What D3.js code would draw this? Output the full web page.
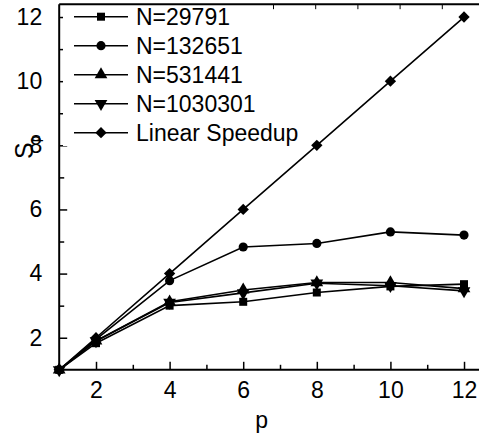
<!DOCTYPE html>
<html>
<head>
<meta charset="utf-8">
<script src="https://cdn.jsdelivr.net/npm/d3@7"></script>
<style>
  html, body { margin: 0; padding: 0; background: #fff; }
  svg { display: block; font-family: "Liberation Sans", Arial, sans-serif; }
</style>
</head>
<body>
<svg id="chart" width="479" height="441"></svg>
<script>
// ---- data ----
const pValues = [1, 2, 4, 6, 8, 10, 12];
const seriesNames = ["N=29791", "N=132651", "N=531441", "N=1030301", "Linear Speedup"];
const s29791   = [1, 1.83, 3.00, 3.12, 3.41, 3.60, 3.67];
const s132651  = [1, 1.95, 3.78, 4.83, 4.94, 5.30, 5.20];
const s531441  = [1, 1.90, 3.12, 3.49, 3.72, 3.72, 3.53];
const s1030301 = [1, 1.90, 3.10, 3.40, 3.70, 3.62, 3.46];
const sLinear  = [1, 2, 4, 6, 8, 10, 12];
const xTickValues = [2, 4, 6, 8, 10, 12];
const yTickValues = [2, 4, 6, 8, 10, 12];
const xMinorValues = [3, 5, 7, 9, 11];
const yMinorValues = [3, 5, 7, 9, 11];
const topTickValues = [5, 6, 7, 8, 9, 10];

const seriesValues = [s29791, s132651, s531441, s1030301, sLinear];
const markerTypes = ["square", "circle", "up", "down", "diamond"];
const markerSizes = [64, 66, 70, 70, 64];

const svg = d3.select("#chart");
const x = d3.scaleLinear().domain([1, 12.6]).range([59.2, 486.1]);
const y = d3.scaleLinear().domain([1, 12.4]).range([369.8, 4.2]);
const xTop = d3.scaleLinear().domain([0, 10]).range([62, 484]);

// frame lines
const frame = svg.append("g").attr("stroke", "#000").attr("stroke-width", 2).attr("fill", "none");
frame.append("line").attr("x1", x(1)).attr("x2", 479).attr("y1", y(1)).attr("y2", y(1));
frame.append("line").attr("x1", x(1)).attr("x2", x(1)).attr("y1", y(1)).attr("y2", y(12.4));
frame.append("line").attr("x1", x(1)).attr("x2", 479).attr("y1", y(12.4)).attr("y2", y(12.4));

// bottom axis (ticks inward)
const xAxis = d3.axisBottom(x).tickValues(xTickValues).tickSize(-8).tickPadding(12).tickFormat(d3.format("d"));
const gx = svg.append("g").attr("transform", `translate(0,${y(1)})`).call(xAxis);
gx.select(".domain").remove();
gx.selectAll(".tick line").attr("stroke", "#000").attr("stroke-width", 1.5);
gx.selectAll(".tick text").attr("font-size", 23).attr("fill", "#000").attr("font-family", "Liberation Sans, Arial, sans-serif");
const gxm = svg.append("g").attr("transform", `translate(0,${y(1)})`)
  .call(d3.axisBottom(x).tickValues(xMinorValues).tickSize(-5).tickFormat(""));
gxm.select(".domain").remove();
gxm.selectAll(".tick line").attr("stroke", "#000").attr("stroke-width", 1.5);

// left axis (ticks inward)
const yAxis = d3.axisLeft(y).tickValues(yTickValues).tickSize(-8).tickPadding(17).tickFormat(d3.format("d"));
const gy = svg.append("g").attr("transform", `translate(${x(1)},0)`).call(yAxis);
gy.select(".domain").remove();
gy.selectAll(".tick line").attr("stroke", "#000").attr("stroke-width", 1.5);
gy.selectAll(".tick text").attr("font-size", 23).attr("fill", "#000").attr("font-family", "Liberation Sans, Arial, sans-serif");
const gym = svg.append("g").attr("transform", `translate(${x(1)},0)`)
  .call(d3.axisLeft(y).tickValues(yMinorValues).tickSize(-5).tickFormat(""));
gym.select(".domain").remove();
gym.selectAll(".tick line").attr("stroke", "#000").attr("stroke-width", 1.5);

// top axis ticks
const gt = svg.append("g").attr("transform", `translate(0,${y(12.4)})`)
  .call(d3.axisTop(xTop).tickValues(topTickValues).tickSize(-5).tickFormat(""));
gt.select(".domain").remove();
gt.selectAll(".tick line").attr("stroke", "#000").attr("stroke-width", 1);

// markers
function markerPath(type, size) {
  const map = { square: d3.symbolSquare, circle: d3.symbolCircle, up: d3.symbolTriangle,
                down: d3.symbolTriangle, diamond: d3.symbolSquare };
  return d3.symbol().type(map[type]).size(size)();
}
function markerRot(type) {
  if (type === "down") return " rotate(180)";
  if (type === "diamond") return " rotate(45)";
  return "";
}

// series lines
const line = d3.line().x((d, i) => x(pValues[i])).y(d => y(d));
seriesValues.forEach((vals) => {
  svg.append("path").datum(vals).attr("d", line)
    .attr("fill", "none").attr("stroke", "#000").attr("stroke-width", 1.6);
});
seriesValues.forEach((vals, si) => {
  const t = markerTypes[si];
  svg.append("g").selectAll("path").data(vals).join("path")
    .attr("d", markerPath(t, markerSizes[si]))
    .attr("transform", (d, i) => `translate(${x(pValues[i])},${y(d)})` + markerRot(t))
    .attr("fill", "#000");
});

// legend
const legend = svg.append("g");
legend.append("rect").attr("x", 63).attr("y", 6).attr("width", 170).attr("height", 140).attr("fill", "#fff");
seriesNames.forEach((name, i) => {
  const cy = 16.7 + i * 29;
  legend.append("line").attr("x1", 74).attr("x2", 128).attr("y1", cy).attr("y2", cy)
    .attr("stroke", "#000").attr("stroke-width", 1.6);
  const t = markerTypes[i];
  legend.append("path").attr("d", markerPath(t, markerSizes[i]))
    .attr("transform", `translate(101,${cy})` + markerRot(t))
    .attr("fill", "#000");
  legend.append("text").attr("x", 136).attr("y", cy + 8.3).attr("font-size", 23).attr("fill", "#000").text(name);
});

// axis titles
svg.append("text").attr("x", x(6.5)).attr("y", 428).attr("text-anchor", "middle")
  .attr("font-size", 23).attr("fill", "#000").text("p");
const yl = svg.append("text").attr("transform", "translate(33,159) rotate(-90)")
  .attr("font-size", 25).attr("fill", "#000");
yl.append("tspan").text("S");
yl.append("tspan").attr("dy", 7).attr("font-size", 14).text("p");
</script>
</body>
</html>
